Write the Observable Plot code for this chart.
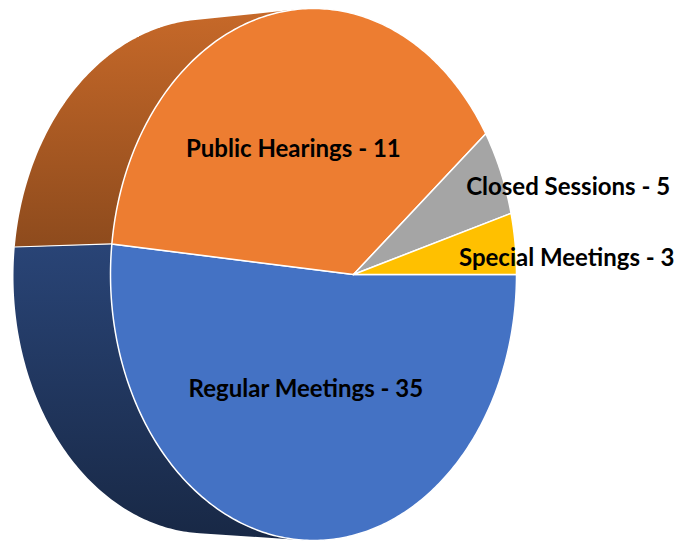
<!DOCTYPE html>
<html>
<head>
<meta charset="utf-8">
<script src="https://cdn.jsdelivr.net/npm/d3@7"></script>
<script src="https://cdn.jsdelivr.net/npm/@observablehq/plot@0.6"></script>
<style>
  html, body { margin: 0; padding: 0; background: #ffffff; }
  #chart { width: 694px; height: 542px; }
</style>
</head>
<body>
<div id="chart"></div>
<script>
// ---- data ----
const categories = ["Regular Meetings", "Public Hearings", "Closed Sessions", "Special Meetings"];
const counts = [35, 11, 5, 3];
// share of the circle each slice occupies as drawn in the picture (%)
const drawnShare = [51.5, 37.8, 6.2, 4.5];
const faceColors = ["#4472C4", "#ED7D31", "#A5A5A5", "#FFC000"];

// ---- layout / projection (styling, not data) ----
const W = 694, H = 542;
const front = {cx: 313, cy: 274, rx: 203, ry: 266};
const back  = {cx: 208, cy: 276, rx: 195, ry: 257};
const p = 40 / 203;               // perspective shift of the pie centre
const sp = Math.sqrt(1 - p * p);
// label nudges (px) and anchors, keyed by slice index
const labelStyle = [
  {dx: -2.5, dy: 7, anchor: "middle"},
  {dx: -1.5, dy: 5, anchor: "middle"},
  {dx: 15, dy: -19, anchor: "start"},
  {dx: -2, dy: 4, anchor: "start"}
];

function project(alpha, r, S) {
  const x0 = r * Math.cos(alpha), y0 = r * Math.sin(alpha);
  const d = 1 + p * x0;
  const X = (x0 + p) / d, Y = y0 * sp / d;
  return [S.cx + S.rx * X, S.cy - S.ry * Y];
}

const pie = d3.pie().sort(null).startAngle(Math.PI / 2).endAngle(Math.PI / 2 + 2 * Math.PI);
const arcs = pie(drawnShare).map((a, i) => ({
  i, a0: Math.PI / 2 - a.startAngle, a1: Math.PI / 2 - a.endAngle
}));

const faceRows = [], wallRows = [], edgeRows = [], labels = [];
const STEP = Math.PI / 240;
arcs.forEach(({i, a0, a1}) => {
  const n = Math.max(2, Math.ceil(Math.abs(a1 - a0) / STEP));
  const angs = d3.range(n + 1).map(k => a0 + (a1 - a0) * k / n);
  const c = project(0, 0, front);
  const poly = [c, ...angs.map(a => project(a, 1, front)), c];
  poly.forEach(([x, y]) => faceRows.push({x, y, id: "f" + i, fill: faceColors[i]}));
  // side wall: one path per slice made of consistently oriented quads (no seams)
  for (let k = 0; k < n; k++) {
    const f0 = project(angs[k], 1, front), f1 = project(angs[k + 1], 1, front);
    const b1 = project(angs[k + 1], 1, back), b0 = project(angs[k], 1, back);
    if (Math.min(f0[0], f1[0]) > front.cx + 0.4 * front.rx) continue; // hidden behind the face
    let q = [f0, f1, b1, b0];
    if (d3.polygonArea(q) < 0) q = q.reverse();
    [...q, q[0]].forEach(([x, y]) => wallRows.push({x, y, id: "w" + i, fill: `url(#wall${i})`}));
    wallRows.push({x: NaN, y: NaN, id: "w" + i, fill: `url(#wall${i})`});
  }
  [project(a0, 1, front), project(a0, 1, back)].forEach(([x, y]) => edgeRows.push({x, y, id: "e" + i}));
  const [lx, ly] = d3.polygonCentroid(poly.slice(0, -1));
  const st = labelStyle[i];
  labels.push({x: lx + st.dx, y: ly + st.dy, anchor: st.anchor, text: `${categories[i]} - ${counts[i]}`});
});

const font = "Lato, 'Open Sans', sans-serif";
const textOpts = {x: "x", y: "y", text: "text", fontSize: 24, fontWeight: "bold", fontFamily: font, fill: "#000000"};
const chart = Plot.plot({
  width: W, height: H,
  margin: 0,
  x: {domain: [0, W], range: [0, W], axis: null},
  y: {domain: [0, H], range: [0, H], axis: null},
  color: {type: "identity"},
  marks: [
    Plot.line(wallRows, {x: "x", y: "y", z: "id", fill: "fill", stroke: "none", curve: "linear"}),
    Plot.line(edgeRows, {x: "x", y: "y", z: "id", stroke: "#ffffff", strokeWidth: 1.2}),
    Plot.line(faceRows, {x: "x", y: "y", z: "id", fill: "fill", stroke: "#ffffff", strokeWidth: 1.5, strokeLinejoin: "round"}),
    Plot.text(labels.filter(d => d.anchor === "middle"), {...textOpts, textAnchor: "middle"}),
    Plot.text(labels.filter(d => d.anchor === "start"), {...textOpts, textAnchor: "start"})
  ]
});

// vertical shading gradients for the side wall of each slice
const defs = d3.select(chart).insert("defs", ":first-child");
const shadeStops = [[0, 0.84], [(245 - 8) / 532, 0.6], [1, 0.35]];
faceColors.forEach((col, i) => {
  const g = defs.append("linearGradient").attr("id", "wall" + i)
    .attr("gradientUnits", "userSpaceOnUse")
    .attr("x1", 0).attr("x2", 0).attr("y1", 8).attr("y2", 540);
  const c = d3.rgb(col);
  shadeStops.forEach(([o, k]) => g.append("stop").attr("offset", o)
    .attr("stop-color", d3.rgb(c.r * k, c.g * k, c.b * k).formatHex()));
});
document.getElementById("chart").appendChild(chart);
</script>
</body>
</html>
